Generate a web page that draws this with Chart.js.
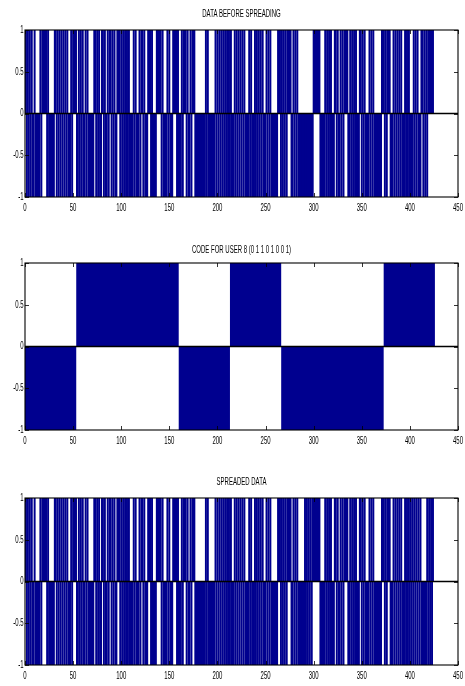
<!DOCTYPE html>
<html>
<head>
<meta charset="utf-8">
<script src="https://cdn.jsdelivr.net/npm/chart.js@4.4.1/dist/chart.umd.min.js"></script>
<style>
  html, body { margin: 0; padding: 0; background: #fff; width: 465px; height: 686px; overflow: hidden; }
  .box { position: absolute; left: 0; width: 465px; height: 220px; }
</style>
</head>
<body>
<div class="box" style="top:0px"><canvas id="c1" width="465" height="220"></canvas></div>
<div class="box" style="top:233px"><canvas id="c2" width="465" height="220"></canvas></div>
<div class="box" style="top:468px"><canvas id="c3" width="465" height="220"></canvas></div>
<script>
// ---- data (1 = +1, 0 = -1, samples 1..424) ----
const titles = ['DATA BEFORE SPREADING', 'CODE FOR USER 8 (0 1 1 0 1 0 0 1)', 'SPREADED DATA'];
const xTicks = [0, 50, 100, 150, 200, 250, 300, 350, 400, 450];
const yTicks = [-1, -0.5, 0, 0.5, 1];
const yTickLabels = ['-1', '-0.5', '0', '0.5', '1'];

const dataBits =
  '1010101' + '00' + '10' + '0000' + '101' + '1111' + '010' + '00000' + '11' +
  '0101010101010' + '00' + '10' + '1111' + '00' + '10101' + '00' + '1010' + '00000' +
  '11' + '0101' + '00' + '11' + '01' + '00' + '10' + '11' + '0101' + '00' + '1' + '11' +
  '01010101010' + '000' + '101' + '000' + '10' + '11' + '010' + '00' + '111' + '01' +
  '0000' + '11111' + '010' + '000' + '1010' + '00' + '1111' + '010' + '00' + '101' +
  '11' + '01' + '00' + '10' + '111' + '00000000000' + '101' + '0000000' +
  '101010101010101010' + '00' + '101010101010' + '000' + '1010' + '00' + '101010101' +
  '000' + '10101' + '0000000' + '111' + '01010101' + '111' + '00' + '10101' +
  '0000000000000000' + '1111111' + '0' + '0000' + '1010101' + '000' + '11' + '01' +
  '00' + '10101' + '111' + '00' + '10101010' + '00' + '11' + '01010' + '000' +
  '101010' + '0000000' + '111' + '010' + '111' + '0' + '00' + '1010101010' + '00' +
  '10101' + '0000' + '101010' + '00' + '11' + '010101' + '11111';

const spreadBits =
  '1010101' + '00' + '10' + '0000' + '101' + '1111' + '010' + '00000' + '11' +
  '0101010101010' + '00' + '10' + '1111' + '00' + '10101' + '00' + '1010' + '00000' +
  '11' + '0101' + '00' + '11' + '01' + '00' + '10' + '11' + '0101' + '00' + '1' + '11' +
  '01010101010' + '000' + '101' + '000' + '10' + '11' + '010' + '00' + '111' + '01' +
  '0000' + '11111' + '010' + '000' + '1010' + '00' + '1111' + '010' + '00' + '101' +
  '11' + '01' + '00' + '10' + '111' + '00000000000' + '101' + '0000000' +
  '101010101010101010' + '00' + '101010101010' + '000' + '1010' + '00' + '101010101' +
  '000' + '10101' + '0000000' + '111' + '01010101' + '111' + '00' + '10101' +
  '0000000' + '101010101' + '1111111' + '0' + '0000' + '1010101' + '000' + '11' + '01' +
  '00' + '10101' + '111' + '00' + '10101010' + '00' + '11' + '01010' + '000' +
  '101010' + '0000000' + '111' + '010' + '111' + '0' + '00' + '1010101010' + '00' +
  '10101010101010101' + '000000' + '1010101';

// spreading code: chip values and chip edges (x units; chip = 53.25 samples)
const codeBits = [0, 1, 1, 0, 1, 0, 0, 1];
const codeEdges = [0, 53.25, 106.5, 159.75, 213, 266.25, 319.5, 372.75, 426];

const toPoints = bits => bits.split('').map((c, i) => ({ x: i + 1, y: c === '1' ? 1 : -1 }));
const codePoints = codeEdges.map((e, i) => ({ x: e, y: codeBits[Math.min(i, codeBits.length - 1)] ? 1 : -1 }));

// ---- styling ----
const NAVY = 'rgb(0,0,143)';
const FONT = '10px "Liberation Sans", Arial, sans-serif';
const SQUEEZE = 0.6;   // the reference figure's text is horizontally compressed

function squeezedText(ctx, text, x, y, align) {
  ctx.save();
  ctx.translate(x, y);
  ctx.scale(SQUEEZE, 1);
  ctx.textAlign = align;
  ctx.fillText(text, 0, 0);
  ctx.restore();
}

const matlabAxes = {
  id: 'matlabAxes',
  afterDatasetsDraw(chart, args, opts) {
    const { ctx, chartArea: a, scales: { x, y } } = chart;
    ctx.save();
    ctx.strokeStyle = '#000';
    // zero baseline
    const y0 = y.getPixelForValue(0);
    ctx.lineWidth = 1.6;
    ctx.beginPath(); ctx.moveTo(a.left, y0); ctx.lineTo(a.right, y0); ctx.stroke();
    // inward ticks on all sides
    ctx.lineWidth = 0.8;
    const tl = 4;
    ctx.beginPath();
    x.ticks.forEach(t => {
      const px = Math.round(x.getPixelForValue(t.value)) + 0.5;
      ctx.moveTo(px, a.bottom); ctx.lineTo(px, a.bottom - tl);
      ctx.moveTo(px, a.top); ctx.lineTo(px, a.top + tl);
    });
    y.ticks.forEach(t => {
      const py = Math.round(y.getPixelForValue(t.value)) + 0.5;
      ctx.moveTo(a.left, py); ctx.lineTo(a.left + tl, py);
      ctx.moveTo(a.right, py); ctx.lineTo(a.right - tl, py);
    });
    ctx.stroke();
    // box
    ctx.lineWidth = 1.1;
    ctx.strokeRect(a.left, a.top, a.right - a.left, a.bottom - a.top);
    // text
    ctx.fillStyle = '#000';
    ctx.font = FONT;
    ctx.textBaseline = 'middle';
    x.ticks.forEach(t => squeezedText(ctx, String(t.value), x.getPixelForValue(t.value), a.bottom + 11.5, 'center'));
    y.ticks.forEach(t => squeezedText(ctx, yTickLabels[yTicks.indexOf(t.value)], a.left - 1.5, y.getPixelForValue(t.value), 'right'));
    squeezedText(ctx, opts.text, (a.left + a.right) / 2, a.top - opts.titleGap, 'center');
    ctx.restore();
  }
};

function baseOptions(title, titleGap) {
  return {
    responsive: false,
    animation: false,
    events: [],
    layout: { padding: { top: 30, right: 7, left: 0, bottom: 0 } },
    plugins: { legend: { display: false }, tooltip: { enabled: false }, title: { display: false },
               filler: { propagate: false }, matlabAxes: { text: title, titleGap: titleGap } },
    scales: {
      x: {
        type: 'linear', min: 0, max: 450, offset: false,
        afterBuildTicks: s => { s.ticks = xTicks.map(v => ({ value: v })); },
        afterFit: s => { s.height = 23; },
        grid: { display: false, drawTicks: false },
        border: { display: false },
        ticks: { display: false }
      },
      y: {
        type: 'linear', min: -1, max: 1,
        afterBuildTicks: s => { s.ticks = yTicks.map(v => ({ value: v })); },
        afterFit: s => { s.width = 25; },
        grid: { display: false, drawTicks: false },
        border: { display: false },
        ticks: { display: false }
      }
    }
  };
}

function makeBarChart(id, points, title, gap) {
  return new Chart(document.getElementById(id), {
    type: 'bar',
    data: { datasets: [{ data: points, backgroundColor: NAVY, borderWidth: 0,
                         barPercentage: 1.0, categoryPercentage: 1.0, inflateAmount: 0.5 }] },
    options: baseOptions(title, gap),
    plugins: [matlabAxes]
  });
}

function makeStepChart(id, points, title, gap) {
  return new Chart(document.getElementById(id), {
    type: 'line',
    data: { datasets: [{ data: points, stepped: 'before', fill: 'origin', backgroundColor: NAVY,
                         borderColor: NAVY, borderWidth: 0, pointRadius: 0, tension: 0 }] },
    options: baseOptions(title, gap),
    plugins: [matlabAxes]
  });
}

makeBarChart('c1', toPoints(dataBits), titles[0], 15.5);
makeStepChart('c2', codePoints, titles[1], 12.5);
makeBarChart('c3', toPoints(spreadBits), titles[2], 15.5);
</script>
</body>
</html>
